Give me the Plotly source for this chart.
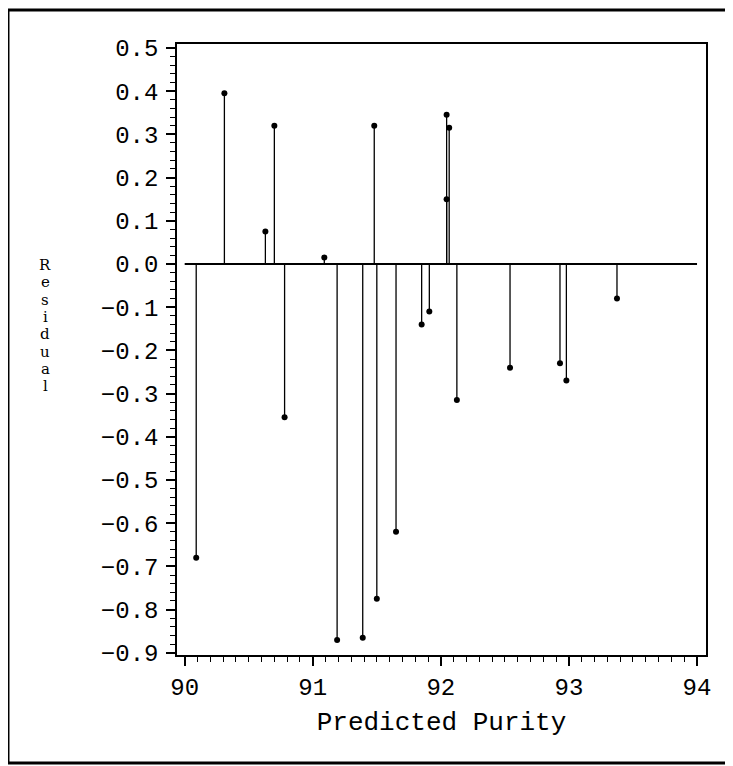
import plotly.graph_objects as go

# residuals against predicted purity
predicted = [90.09, 90.31, 90.63, 90.70, 90.78, 91.09, 91.19, 91.39, 91.48, 91.50,
             91.65, 91.85, 91.91, 92.045, 92.045, 92.065, 92.125, 92.54, 92.93, 92.98, 93.375]
residual = [-0.68, 0.395, 0.075, 0.32, -0.355, 0.015, -0.87, -0.865, 0.32, -0.775,
            -0.62, -0.14, -0.11, 0.345, 0.15, 0.315, -0.315, -0.24, -0.23, -0.27, -0.08]

x_ticks = [90, 91, 92, 93, 94]
y_ticks = [0.5, 0.4, 0.3, 0.2, 0.1, 0.0, -0.1, -0.2, -0.3, -0.4, -0.5, -0.6, -0.7, -0.8, -0.9]
zero_line_x = [90, 94]
y_title = "Residual"

# stems from zero to each residual
stem_x, stem_y = [], []
for px, r in zip(predicted, residual):
    stem_x += [px, px, None]
    stem_y += [0, r, None]

fig = go.Figure()
fig.add_trace(go.Scatter(x=stem_x, y=stem_y, mode="lines",
                         line=dict(color="black", width=1.3), hoverinfo="skip"))
fig.add_trace(go.Scatter(x=predicted, y=residual, mode="markers",
                         marker=dict(color="black", size=6)))

# zero reference line
fig.add_shape(type="line", x0=zero_line_x[0], x1=zero_line_x[1], y0=0, y1=0,
              xref="x", yref="y", line=dict(color="black", width=2))

# outer page frame
fig.add_shape(type="rect", xref="paper", yref="paper",
              x0=-0.3195, x1=1.0472, y0=-0.1768, y1=1.0556,
              line=dict(color="black", width=3))

tick_font = dict(family="Liberation Mono", size=24, color="black")

fig.update_xaxes(
    range=[89.94, 94.07], tickvals=x_ticks, ticks="outside", ticklen=9,
    tickwidth=1.5, tickcolor="black", tickfont=tick_font,
    minor=dict(dtick=0.1, ticks="outside", ticklen=5, tickcolor="black", tickwidth=1.2),
    showline=True, linecolor="black", linewidth=1.5, mirror=True,
    showgrid=False, zeroline=False,
    title=dict(text="Predicted Purity", font=dict(family="Liberation Mono", size=26, color="black"),
               standoff=11),
)
fig.update_yaxes(
    range=[-0.905, 0.509], tickvals=y_ticks, tickformat=".1f", ticks="outside", ticklen=9,
    tickwidth=1.5, tickcolor="black", tickfont=tick_font, ticklabelstandoff=3,
    minor=dict(dtick=0.02, ticks="outside", ticklen=5, tickcolor="black", tickwidth=1.2),
    showline=True, linecolor="black", linewidth=1.5, mirror=True,
    showgrid=False, zeroline=False,
)

# vertical stacked axis title, one letter per row
for i, ch in enumerate(y_title):
    fig.add_annotation(text=ch, xref="paper", yref="paper", textangle=0,
                       x=-0.2495, y=0.638 - i * 0.0283, showarrow=False,
                       xanchor="center", yanchor="middle",
                       font=dict(family="DejaVu Serif", size=15, color="black"))

fig.update_layout(
    width=725, height=758,
    margin=dict(l=169, r=27, t=36, b=111),
    paper_bgcolor="white", plot_bgcolor="white",
    showlegend=False,
)

fig.write_html("out.html")
